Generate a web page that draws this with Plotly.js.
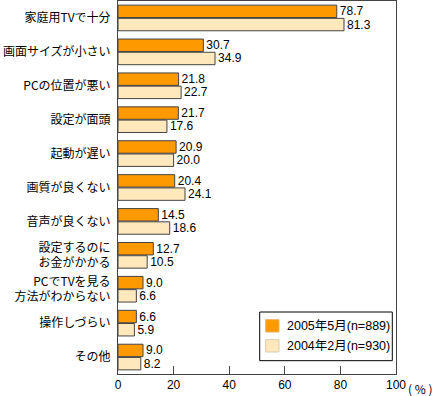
<!DOCTYPE html>
<html><head><meta charset="utf-8">
<script src="https://cdn.plot.ly/plotly-3.0.1.min.js"></script>
<style>html,body{margin:0;padding:0;background:#fff}#c{width:440px;height:396px}</style>
</head><body><div id="c"></div>
<script>
const categories = ["家庭用TVで十分","画面サイズが小さい","PCの位置が悪い","設定が面頭","起動が遅い","画質が良くない","音声が良くない","設定するのに<br>お金がかかる","PCでTVを見る<br>方法がわからない","操作しづらい","その他"];
const values2005 = [78.7,30.7,21.8,21.7,20.9,20.4,14.5,12.7,9.0,6.6,9.0];
const values2004 = [81.3,34.9,22.7,17.6,20.0,24.1,18.6,10.5,6.6,5.9,8.2];
const seriesNames = ["2005年5月(n=889)","2004年2月(n=930)"];
const seriesColors = ["#FF9900","#FFE8BB"];
const tickVals = [0,20,40,60,80,100];
const tickText = ["0","20","40","60","80","100"];

const txtFont = {family:"Liberation Sans, Arial, sans-serif", size:12, color:"#000"};
function mk(vals, name, color){
  return {type:"bar", orientation:"h", x:vals, y:categories, name:name,
    marker:{color:color, line:{color:"#444", width:1}},
    text:vals.map(v=>v.toFixed(1)), textposition:"outside", textfont:txtFont,
    constraintext:"none", cliponaxis:false, hoverinfo:"skip", showlegend:false};
}
const data = [mk(values2005, seriesNames[0], seriesColors[0]), mk(values2004, seriesNames[1], seriesColors[1])];

// manual legend (paper coords)
const legFont = {family:"Liberation Sans, Noto Sans CJK JP, sans-serif", size:12.5, color:"#000"};
const shapes = [
  {type:"rect", xref:"paper", yref:"paper", x0:0.5097, x1:0.9867, y0:0.0357, y1:0.1662, line:{color:"#000", width:1}, fillcolor:"#fff"},
  {type:"rect", xref:"paper", yref:"paper", x0:0.5313, x1:0.5791, y0:0.1126, y1:0.1456, line:{color:"#e8b060", width:1}, fillcolor:seriesColors[0]},
  {type:"rect", xref:"paper", yref:"paper", x0:0.5313, x1:0.5791, y0:0.0590, y1:0.0920, line:{color:"#d8ccb0", width:1}, fillcolor:seriesColors[1]}
];
const annotations = [
  {xref:"paper", yref:"paper", x:0.6007, y:0.1287, xanchor:"left", yanchor:"middle", text:seriesNames[0], showarrow:false, font:legFont},
  {xref:"paper", yref:"paper", x:0.6007, y:0.0751, xanchor:"left", yanchor:"middle", text:seriesNames[1], showarrow:false, font:legFont},
  {xref:"paper", yref:"paper", x:1, y:0, xanchor:"left", yanchor:"top", xshift:10, yshift:-4,
    text:"( % )", showarrow:false, font:{family:"Noto Sans CJK JP, sans-serif", size:12, color:"#000"}}
];
const layout = {
  width:440, height:396, margin:{l:118, r:44, t:1, b:22},
  paper_bgcolor:"#fff", plot_bgcolor:"#fff",
  barmode:"group", bargap:0.22, bargroupgap:0.06,
  showlegend:false,
  xaxis:{range:[0,100], tickvals:tickVals, ticktext:tickText, ticks:"inside", ticklen:8, tickcolor:"#444",
    showgrid:false, zeroline:false, showline:true, linecolor:"#444", linewidth:1, mirror:true,
    tickfont:{family:"Liberation Sans, Arial, sans-serif", size:12, color:"#000"}, fixedrange:true},
  yaxis:{type:"category", autorange:"reversed", showgrid:false, zeroline:false, showline:true, linecolor:"#444",
    linewidth:1, mirror:true, ticks:"", ticklabelstandoff:4,
    tickfont:{family:"Noto Sans CJK JP, sans-serif", size:12, color:"#000"}, fixedrange:true},
  shapes:shapes, annotations:annotations
};
Plotly.newPlot("c", data, layout, {displayModeBar:false, staticPlot:true});
</script></body></html>
